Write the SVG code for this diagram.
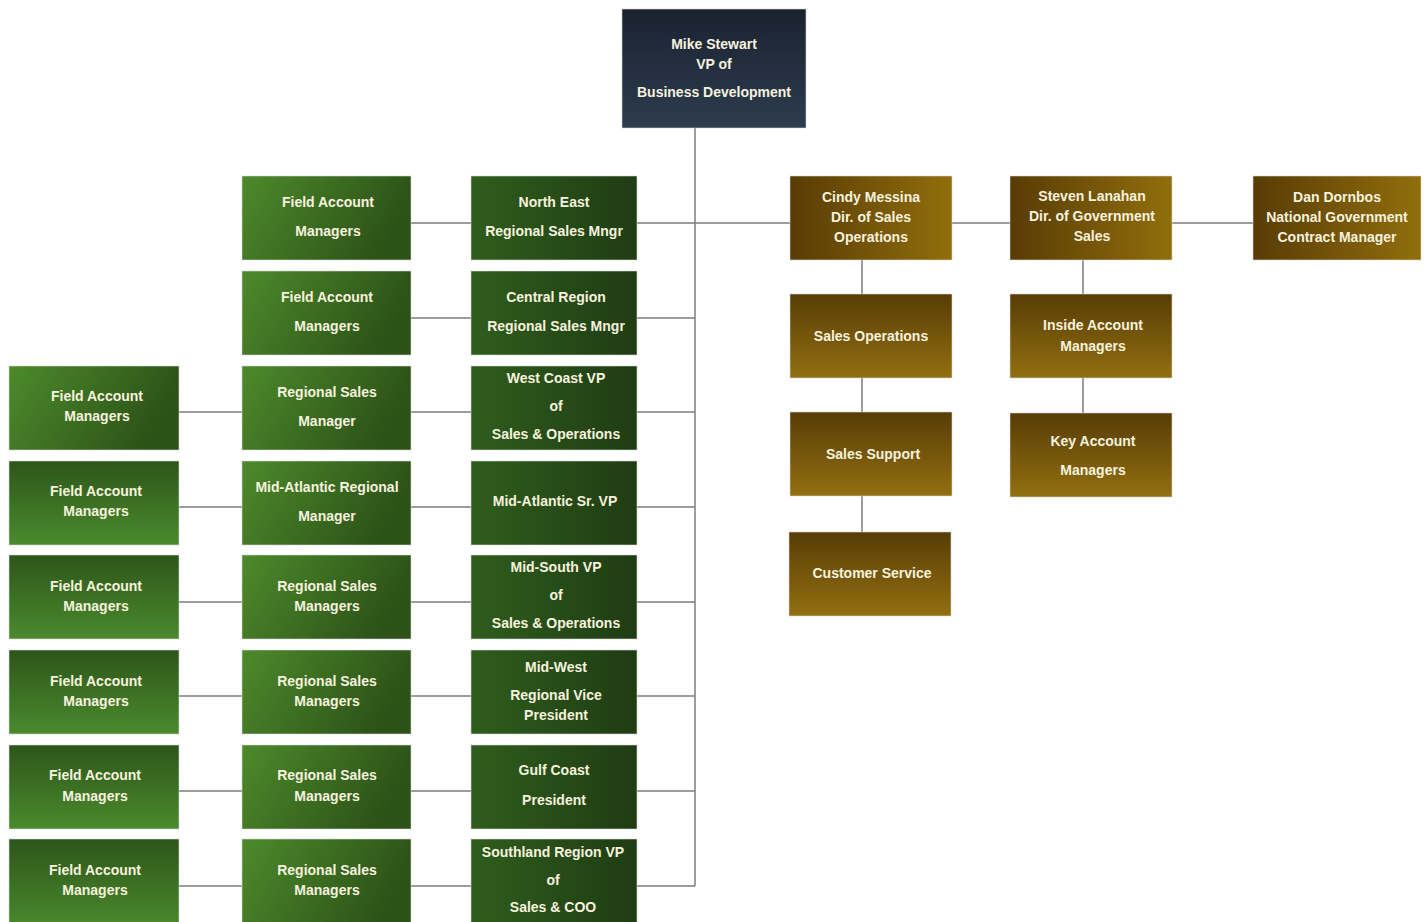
<svg xmlns="http://www.w3.org/2000/svg" width="1428" height="922" viewBox="0 0 1428 922">
<defs>
<linearGradient id="navy" x1="0" y1="0" x2="0" y2="1"><stop offset="0" stop-color="#1a2230"/><stop offset="1" stop-color="#2d3c4f"/></linearGradient>
<linearGradient id="gA" x1="0" y1="0" x2="1" y2="0.3"><stop offset="0" stop-color="#4d8a2b"/><stop offset="1" stop-color="#2c5218"/></linearGradient>
<linearGradient id="gB" x1="0" y1="0" x2="1" y2="0"><stop offset="0" stop-color="#2f5d1d"/><stop offset="1" stop-color="#1f3c13"/></linearGradient>
<linearGradient id="gV" x1="0" y1="0" x2="0" y2="1"><stop offset="0" stop-color="#2c561a"/><stop offset="1" stop-color="#4b8a2d"/></linearGradient>
<linearGradient id="oH" x1="0" y1="0" x2="1" y2="0"><stop offset="0" stop-color="#583c05"/><stop offset="1" stop-color="#916e0c"/></linearGradient>
<linearGradient id="oV" x1="0" y1="0" x2="0" y2="1"><stop offset="0" stop-color="#573d06"/><stop offset="1" stop-color="#926f10"/></linearGradient>
</defs>
<style>
text{font-family:"Liberation Sans",Arial,sans-serif;font-weight:bold;font-size:14px;fill:#f6f2de;text-anchor:middle}
.box{stroke:#d8d8d8;stroke-width:0.6}
.ln{stroke:#7d7d7d;stroke-width:1.5;fill:none}
</style>
<rect width="1428" height="922" fill="#ffffff"/>
<g id="connectors" class="ln">
<path d="M695 128V886"/>
<path d="M637 223H790M952 223H1010M1172 223H1253"/>
<path d="M862 260V532M1083 260V413"/>
<path d="M411 223H471M411 318H471"/>
<path d="M179 412H695M179 507H695M179 602H695M179 696H695M179 791H695M179 886H695"/>
<path d="M637 318H695"/>
</g>
<g id="n-mike"><rect class="box" x="622" y="9" width="184" height="119" fill="url(#navy)"/><text x="714" y="49">Mike Stewart</text><text x="714" y="69">VP of</text><text x="714" y="97">Business Development</text></g>
<g id="n-cindy"><rect class="box" x="790" y="176" width="162" height="84" fill="url(#oH)"/><text x="871" y="202">Cindy Messina</text><text x="871" y="222">Dir. of Sales</text><text x="871" y="242">Operations</text></g>
<g id="n-steven"><rect class="box" x="1010" y="176" width="162" height="84" fill="url(#oH)"/><text x="1092" y="201">Steven Lanahan</text><text x="1092" y="221">Dir. of Government</text><text x="1092" y="241">Sales</text></g>
<g id="n-dan"><rect class="box" x="1253" y="176" width="168" height="84" fill="url(#oH)"/><text x="1337" y="202">Dan Dornbos</text><text x="1337" y="222">National Government</text><text x="1337" y="242">Contract Manager</text></g>
<g id="n-salesops"><rect class="box" x="790" y="294" width="162" height="84" fill="url(#oV)"/><text x="871" y="341">Sales Operations</text></g>
<g id="n-salessupport"><rect class="box" x="790" y="412" width="162" height="84" fill="url(#oV)"/><text x="873" y="459">Sales Support</text></g>
<g id="n-custservice"><rect class="box" x="789" y="532" width="162" height="84" fill="url(#oV)"/><text x="872" y="578">Customer Service</text></g>
<g id="n-inside"><rect class="box" x="1010" y="294" width="162" height="84" fill="url(#oV)"/><text x="1093" y="330">Inside Account</text><text x="1093" y="351">Managers</text></g>
<g id="n-key"><rect class="box" x="1010" y="413" width="162" height="84" fill="url(#oV)"/><text x="1093" y="446">Key Account</text><text x="1093" y="475">Managers</text></g>
<g id="n-northeast"><rect class="box" x="471" y="176" width="166" height="84" fill="url(#gB)"/><text x="554" y="207">North East</text><text x="554" y="236">Regional Sales Mngr</text></g>
<g id="n-central"><rect class="box" x="471" y="271" width="166" height="84" fill="url(#gB)"/><text x="556" y="302">Central Region</text><text x="556" y="331">Regional Sales Mngr</text></g>
<g id="n-westcoast"><rect class="box" x="471" y="366" width="166" height="84" fill="url(#gB)"/><text x="556" y="383">West Coast VP</text><text x="556" y="411">of</text><text x="556" y="439">Sales &amp; Operations</text></g>
<g id="n-midatl"><rect class="box" x="471" y="461" width="166" height="84" fill="url(#gB)"/><text x="555" y="506">Mid-Atlantic Sr. VP</text></g>
<g id="n-midsouth"><rect class="box" x="471" y="555" width="166" height="84" fill="url(#gB)"/><text x="556" y="572">Mid-South VP</text><text x="556" y="600">of</text><text x="556" y="628">Sales &amp; Operations</text></g>
<g id="n-midwest"><rect class="box" x="471" y="650" width="166" height="84" fill="url(#gB)"/><text x="556" y="672">Mid-West</text><text x="556" y="700">Regional Vice</text><text x="556" y="720">President</text></g>
<g id="n-gulf"><rect class="box" x="471" y="745" width="166" height="84" fill="url(#gB)"/><text x="554" y="775">Gulf Coast</text><text x="554" y="805">President</text></g>
<g id="n-southland"><rect class="box" x="471" y="839" width="166" height="90" fill="url(#gB)"/><text x="553" y="857">Southland Region VP</text><text x="553" y="885">of</text><text x="553" y="912">Sales &amp; COO</text></g>
<g id="n-fam1"><rect class="box" x="242" y="176" width="169" height="84" fill="url(#gA)"/><text x="328" y="207">Field Account</text><text x="328" y="236">Managers</text></g>
<g id="n-fam2"><rect class="box" x="242" y="271" width="169" height="84" fill="url(#gA)"/><text x="327" y="302">Field Account</text><text x="327" y="331">Managers</text></g>
<g id="n-rsm1"><rect class="box" x="242" y="366" width="169" height="84" fill="url(#gA)"/><text x="327" y="397">Regional Sales</text><text x="327" y="426">Manager</text></g>
<g id="n-marm"><rect class="box" x="242" y="461" width="169" height="84" fill="url(#gA)"/><text x="327" y="492">Mid-Atlantic Regional</text><text x="327" y="521">Manager</text></g>
<g id="n-rsm2"><rect class="box" x="242" y="555" width="169" height="84" fill="url(#gA)"/><text x="327" y="591">Regional Sales</text><text x="327" y="611">Managers</text></g>
<g id="n-rsm3"><rect class="box" x="242" y="650" width="169" height="84" fill="url(#gA)"/><text x="327" y="686">Regional Sales</text><text x="327" y="706">Managers</text></g>
<g id="n-rsm4"><rect class="box" x="242" y="745" width="169" height="84" fill="url(#gA)"/><text x="327" y="780">Regional Sales</text><text x="327" y="801">Managers</text></g>
<g id="n-rsm5"><rect class="box" x="242" y="839" width="169" height="90" fill="url(#gA)"/><text x="327" y="875">Regional Sales</text><text x="327" y="895">Managers</text></g>
<g id="n-fam3"><rect class="box" x="9" y="366" width="170" height="84" fill="url(#gA)"/><text x="97" y="401">Field Account</text><text x="97" y="421">Managers</text></g>
<g id="n-fam4"><rect class="box" x="9" y="461" width="170" height="84" fill="url(#gV)"/><text x="96" y="496">Field Account</text><text x="96" y="516">Managers</text></g>
<g id="n-fam5"><rect class="box" x="9" y="555" width="170" height="84" fill="url(#gV)"/><text x="96" y="591">Field Account</text><text x="96" y="611">Managers</text></g>
<g id="n-fam6"><rect class="box" x="9" y="650" width="170" height="84" fill="url(#gV)"/><text x="96" y="686">Field Account</text><text x="96" y="706">Managers</text></g>
<g id="n-fam7"><rect class="box" x="9" y="745" width="170" height="84" fill="url(#gV)"/><text x="95" y="780">Field Account</text><text x="95" y="801">Managers</text></g>
<g id="n-fam8"><rect class="box" x="9" y="839" width="170" height="90" fill="url(#gV)"/><text x="95" y="875">Field Account</text><text x="95" y="895">Managers</text></g>
</svg>
